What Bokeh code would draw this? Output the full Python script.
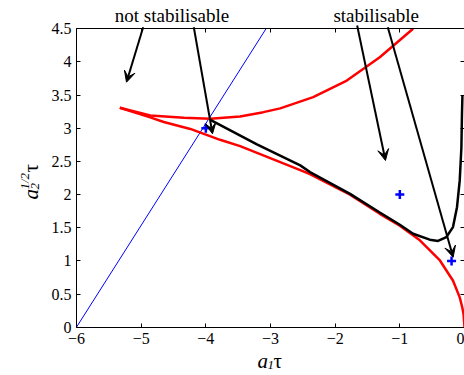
from bokeh.plotting import figure
from bokeh.models import Range1d, LinearAxis, FixedTicker, Label, Arrow, VeeHead
from bokeh.embed import file_html
from bokeh.resources import INLINE

# ---------------- data ----------------
x_ticks = [-6, -5, -4, -3, -2, -1, 0]
x_tick_labels = ["\u22126", "\u22125", "\u22124", "\u22123", "\u22122", "\u22121", "0"]
y_ticks = [0, 0.5, 1, 1.5, 2, 2.5, 3, 3.5, 4, 4.5]
y_tick_labels = ["0", "0.5", "1", "1.5", "2", "2.5", "3", "3.5", "4", "4.5"]

blue_x = [-6.0, -3.07]
blue_y = [0.0, 4.5]

upper_red_x = [-5.33, -4.86, -4.34, -3.93, -3.47, -3.11, -2.85, -2.34, -1.82, -1.31, -0.795]
upper_red_y = [3.31, 3.193, 3.158, 3.143, 3.178, 3.243, 3.300, 3.469, 3.72, 4.07, 4.5]

lower_red_x = [-5.33, -4.86, -4.65, -4.24, -3.78, -3.47, -2.54, -2.39, -1.77, -1.31, -1.0,
               -0.69, -0.38, -0.177, -0.074, -0.035, -0.015, 0.0]
lower_red_y = [3.31, 3.165, 3.095, 2.99, 2.826, 2.73, 2.37, 2.31, 2.0, 1.71, 1.53,
               1.31, 1.006, 0.70, 0.45, 0.30, 0.2, 0.0]

black_x = [-3.93, -3.21, -2.54, -2.39, -1.77, -1.31, -1.0, -0.795, -0.537, -0.409, -0.28,
           -0.178, -0.116, -0.074, -0.048, -0.039, -0.032]
black_y = [3.128, 2.756, 2.44, 2.34, 2.01, 1.73, 1.545, 1.41, 1.32, 1.30, 1.36,
           1.51, 1.81, 2.21, 2.71, 3.22, 3.49]

plus_x = [-4.0, -1.0, -0.2]
plus_y = [3.0, 2.0, 1.0]

annot_texts = ["not stabilisable", "stabilisable"]
annot_x = [-4.523, -1.366]
annot_y = [4.701, 4.701]

# arrows: (x_start, y_start, x_end, y_end)
arrows = [(-4.969, 4.524, -5.227, 3.695),
          (-4.186, 4.524, -3.897, 2.917),
          (-1.660, 4.550, -1.222, 2.514),
          (-1.186, 4.524, -0.175, 1.056)]

FONT = "Liberation Serif"
X0, X1, Y0, Y1 = -6, 0, 0, 4.5

# the frame covers the whole canvas; axes are drawn at fixed data locations
p = figure(width=464, height=375,
           x_range=Range1d(-6 - 76 / 64.667, 0),
           y_range=Range1d(-(375 - 326.7) / 66.31, 4.5 + 28.3 / 66.31),
           output_backend="svg", toolbar_location=None,
           x_axis_location=None, y_axis_location=None,
           min_border_left=0, min_border_right=0, min_border_top=0, min_border_bottom=0)
p.outline_line_color = None
p.background_fill_color = "white"
p.border_fill_color = "white"
p.grid.visible = False


def make_axis(ticks, labels, loc, bounds, show_labels, show_line=True):
    ax = LinearAxis(ticker=FixedTicker(ticks=ticks), fixed_location=loc, bounds=bounds,
                    major_label_overrides={t: l for t, l in zip(ticks, labels)})
    ax.major_tick_in = 4
    ax.major_tick_out = 0
    ax.minor_tick_line_color = None
    ax.major_tick_line_color = "black"
    ax.major_tick_line_width = 1
    ax.axis_line_color = "black" if show_line else None
    ax.axis_line_width = 1
    ax.major_label_text_font = FONT
    ax.major_label_text_font_size = "16px"
    ax.major_label_text_color = "black" if show_labels else None
    return ax


bottom = make_axis(x_ticks, x_tick_labels, Y0, (X0, X1), True)
bottom.major_label_standoff = 6
left = make_axis(y_ticks, y_tick_labels, X0, (Y0, Y1), True)
left.major_label_standoff = 5
top = make_axis(x_ticks, x_tick_labels, Y1, (X0, X1), False)
right = make_axis(y_ticks, y_tick_labels, X1, (Y0, Y1), False, show_line=False)
p.add_layout(bottom, "below")
p.add_layout(left, "left")
p.add_layout(top, "above")
p.add_layout(right, "right")

p.line(blue_x, blue_y, line_color="blue", line_width=1)
p.line(upper_red_x, upper_red_y, line_color="red", line_width=2.5)
p.line(lower_red_x, lower_red_y, line_color="red", line_width=2.5)
p.line(black_x, black_y, line_color="black", line_width=2.5)
p.scatter(plus_x, plus_y, marker="cross", size=9, line_width=2.5, line_color="blue")

for xs, ys, xe, ye in arrows:
    p.add_layout(Arrow(end=VeeHead(size=11, fill_color="black", line_color="black", line_width=1),
                       x_start=xs, y_start=ys, x_end=xe, y_end=ye,
                       line_color="black", line_width=2))

for t, x, y in zip(annot_texts, annot_x, annot_y):
    p.add_layout(Label(x=x, y=y, text=t, text_align="center", text_baseline="alphabetic",
                       text_font=FONT, text_font_size="19px", text_color="black"))


def lab(x, y, t, size, italic=True, angle=0.0):
    p.add_layout(Label(x=x, y=y, text=t, angle=angle, text_font=FONT,
                       text_font_style="italic" if italic else "normal",
                       text_font_size=size, text_color="black",
                       text_baseline="alphabetic", text_align="left"))


# x axis label: a_1 tau
lab(-3.201, -0.515, "a", "21px")
lab(-3.046, -0.570, "1", "13px")
lab(-2.954, -0.515, "\u03c4", "21px", italic=False)

# y axis label: a_2^{1/2} tau (rotated)
ang = 1.5707963
lab(-6.703, 1.925, "a", "21px", angle=ang)
lab(-6.641, 2.076, "2", "13px", angle=ang)
lab(-6.811, 2.076, "1/2", "13px", angle=ang)
lab(-6.703, 2.333, "\u03c4", "21px", italic=False, angle=ang)

open("out.html", "w").write(file_html(p, INLINE))
